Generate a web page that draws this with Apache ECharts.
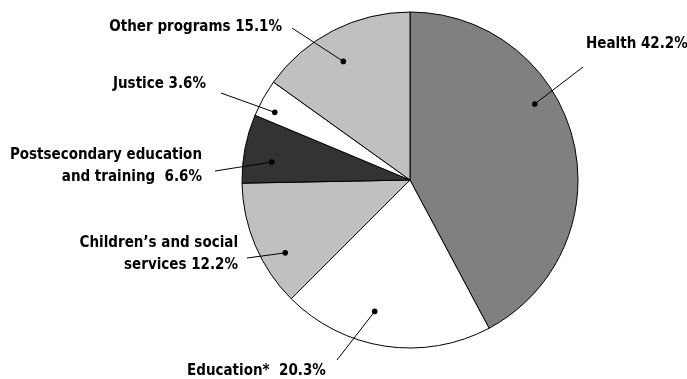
<!DOCTYPE html>
<html>
<head>
<meta charset="utf-8">
<script src="https://cdn.jsdelivr.net/npm/echarts@6/dist/echarts.min.js"></script>
<style>
  html, body { margin: 0; padding: 0; background: #fff; }
  #chart { width: 687px; height: 379px; }
</style>
</head>
<body>
<div id="chart"></div>
<script>
// Program spending shares, clockwise from 12 o'clock
const categories = ['Health', 'Education*', 'Children\u2019s and social\nservices', 'Postsecondary education\nand training ', 'Justice', 'Other programs'];
const shares = [42.2, 20.3, 12.2, 6.6, 3.6, 15.1];
const sliceColors = ['#808080', '#ffffff', '#c0c0c0', '#333333', '#ffffff', '#c0c0c0'];
const labelSep = [' ', '  ', ' ', ' ', ' ', ' '];

// Pie geometry
const CX = 410, CY = 180, R = 168;

// Label anchor points and leader-line geometry
const labelPos = [
  { x: 586, y: 44, align: 'left' },
  { x: 187, y: 371, align: 'left' },
  { x: 238, y: 254, align: 'right' },
  { x: 202, y: 166, align: 'right' },
  { x: 206, y: 84, align: 'right' },
  { x: 282, y: 27, align: 'right' }
];
const leaderEnd = [[583, 67], [337, 360], [247, 258], [215, 171], [221, 93], [292, 28]];
// dot position inside each slice: fraction along the slice's sweep, fraction of radius
const dotAt = [[0.386, 0.87], [0.59, 0.81], [0.335, 0.86], [0.357, 0.83], [0.3, 0.9], [0.46, 0.81]];

const FONT = '"DejaVu Sans Condensed", "Liberation Sans Narrow", sans-serif';

const total = shares.reduce((a, b) => a + b, 0);
const graphics = [];
let acc = 0;
shares.forEach((v, i) => {
  const start = acc / total * 360;
  const span = v / total * 360;
  acc += v;
  const ang = (start + dotAt[i][0] * span) * Math.PI / 180;
  const r = dotAt[i][1] * R;
  const dx = CX + r * Math.sin(ang);
  const dy = CY - r * Math.cos(ang);
  graphics.push({
    type: 'line', z: 100,
    shape: { x1: dx, y1: dy, x2: leaderEnd[i][0], y2: leaderEnd[i][1] },
    style: { stroke: '#000', lineWidth: 1 }
  });
  graphics.push({
    type: 'circle', z: 101,
    shape: { cx: dx, cy: dy, r: 2.8 },
    style: { fill: '#000' }
  });
});

const chart = echarts.init(document.getElementById('chart'), null, { renderer: 'canvas' });
chart.setOption({
  animation: false,
  backgroundColor: '#fff',
  graphic: graphics,
  series: [{
    type: 'pie',
    center: [CX, CY],
    radius: [0, R],
    startAngle: 90,
    clockwise: true,
    avoidLabelOverlap: false,
    emphasis: { disabled: true },
    itemStyle: { borderColor: '#000', borderWidth: 1 },
    label: {
      show: true,
      position: 'outside',
      color: '#000',
      fontFamily: FONT,
      fontSize: 15,
      fontWeight: 'bold',
      lineHeight: 22,
      formatter: p => p.name + labelSep[p.dataIndex] + shares[p.dataIndex].toFixed(1) + '%'
    },
    labelLine: { show: false },
    labelLayout: p => ({
      x: labelPos[p.dataIndex].x,
      y: labelPos[p.dataIndex].y,
      align: labelPos[p.dataIndex].align,
      verticalAlign: 'middle',
      hideOverlap: false
    }),
    data: shares.map((v, i) => ({
      name: categories[i],
      value: v,
      itemStyle: { color: sliceColors[i] },
      label: { align: labelPos[i].align }
    }))
  }]
});
</script>
</body>
</html>
